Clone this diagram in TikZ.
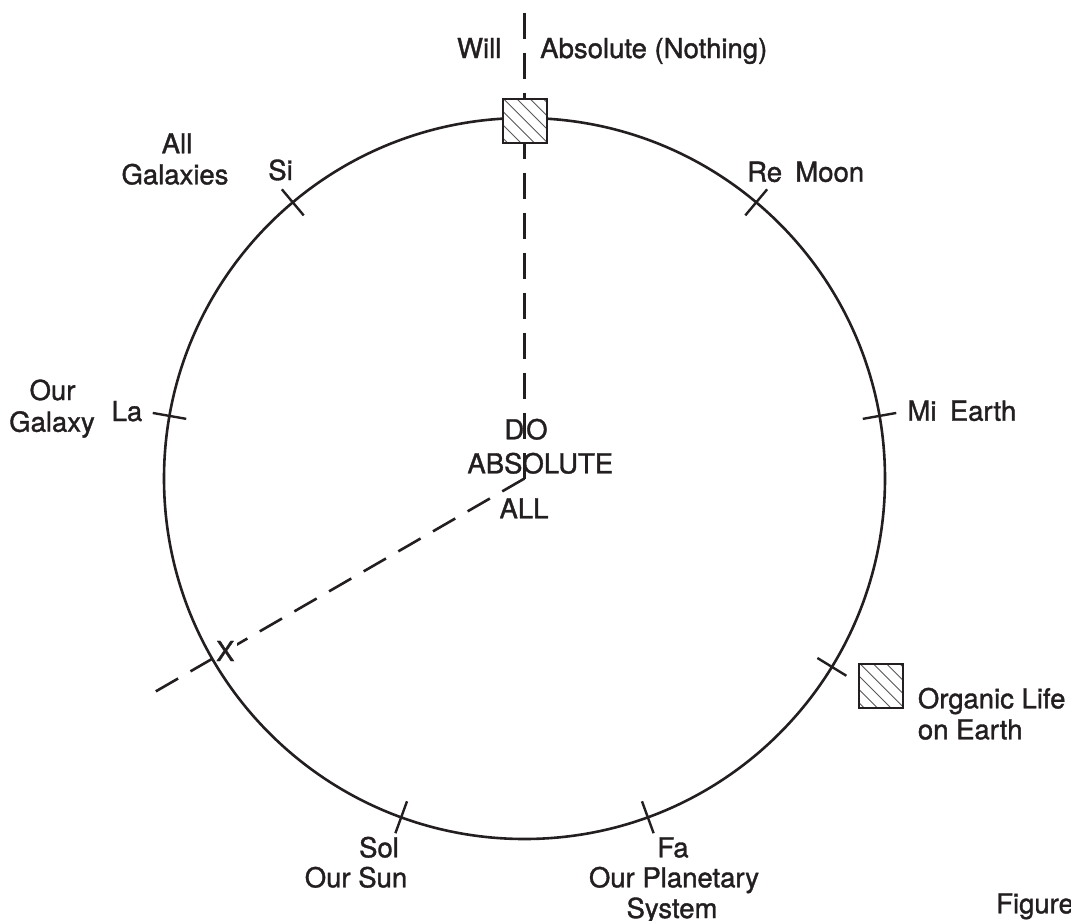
\documentclass[tikz,border=0pt]{standalone}
\usepackage{fontspec}
\setmainfont[FakeBold=1.3]{TeX Gyre Heros}
\usetikzlibrary{calc}
\definecolor{ink}{RGB}{35,31,32}
\begin{document}
\begin{tikzpicture}[x=1pt,y=-1pt,
  lab/.style={inner sep=0pt, anchor=base, text=ink, font=\fontsize{27.5}{31}\selectfont},
  rim/.style={draw=ink, line width=2.6pt},
  tickmark/.style={draw=ink, line width=2.4pt},
  dashline/.style={draw=ink, line width=2.6pt, dash pattern=on 25.7pt off 14.3pt},
  hatchbox/.style={rectangle, draw=ink, fill=white, line width=2.3pt, minimum size=44pt, inner sep=0pt,
     path picture={\foreach \c in {-38.7,-25.4,-12.1,1.2,14.5,27.8,41.1}
        \draw[ink!75, line width=0.9pt] ([shift={(\c-5,-5)}]path picture bounding box.north west) -- ++(60,60);}}
]
\useasboundingbox (0,0) rectangle (1071,921);
\coordinate (C) at (524.5,478.5);
\coordinate (top) at (524.5,11.7);
\coordinate (xend) at ($(C)+(150:426)$);
% dashed radii
\draw[dashline] (C) -- (top);
\draw[dashline] (C) -- (xend);
\node[lab, fill=white, inner xsep=3pt, inner ysep=1pt] (xlab) at (225.3,661) {X};
% circle and ticks
\draw[rim] (C) circle[radius=360.5];
\foreach \a in {-130,-50,-10,-170,31.5,70,110}
  \draw[tickmark] ($(C)+(\a:343.5)$) -- ($(C)+(\a:377.5)$);
% hatched squares
\node[hatchbox] (will) at (524.7,121.2) {};
\node[hatchbox] (life) at (881.3,686.3) {};
% labels
\node[lab] (willlab) at (479.2,58) {Will};
\node[lab, anchor=base west] (abslab) at (540,58) {Absolute (Nothing)};
\node[lab] (all1) at (177,153.3) {All};
\node[lab] (all2) at (175,184.3) {Galaxies};
\node[lab] (si) at (280.5,180) {Si};
\node[lab, anchor=base west] (re) at (747,181.7) {Re\hspace{13.3pt}Moon};
\node[lab] (our1) at (52.5,400) {Our};
\node[lab] (our2) at (52,431.7) {Galaxy};
\node[lab] (la) at (127,421) {La};
\node[lab, anchor=base west] (mi) at (907.3,420.7) {Mi\hspace{13.3pt}Earth};
\node[lab] (dolab) at (526,439.3) {D\kern2pt O};
\node[lab] (absolute) at (540.3,473.3) {ABSOLUTE};
\node[lab] (allc) at (524,518.3) {ALL};
\node[lab, anchor=base west] (org1) at (917.7,708.3) {Organic Life};
\node[lab, anchor=base west] (org2) at (917.7,739.3) {on Earth};
\node[lab] (sol1) at (379,857.3) {Sol};
\node[lab] (sol2) at (356,887.3) {Our Sun};
\node[lab] (fa1) at (673,857.3) {Fa};
\node[lab] (fa2) at (674,887.3) {Our Planetary};
\node[lab] (fa3) at (672,918) {System};
\node[lab, anchor=base west] (fig) at (996,913.3) {Figure};
\end{tikzpicture}
\end{document}
